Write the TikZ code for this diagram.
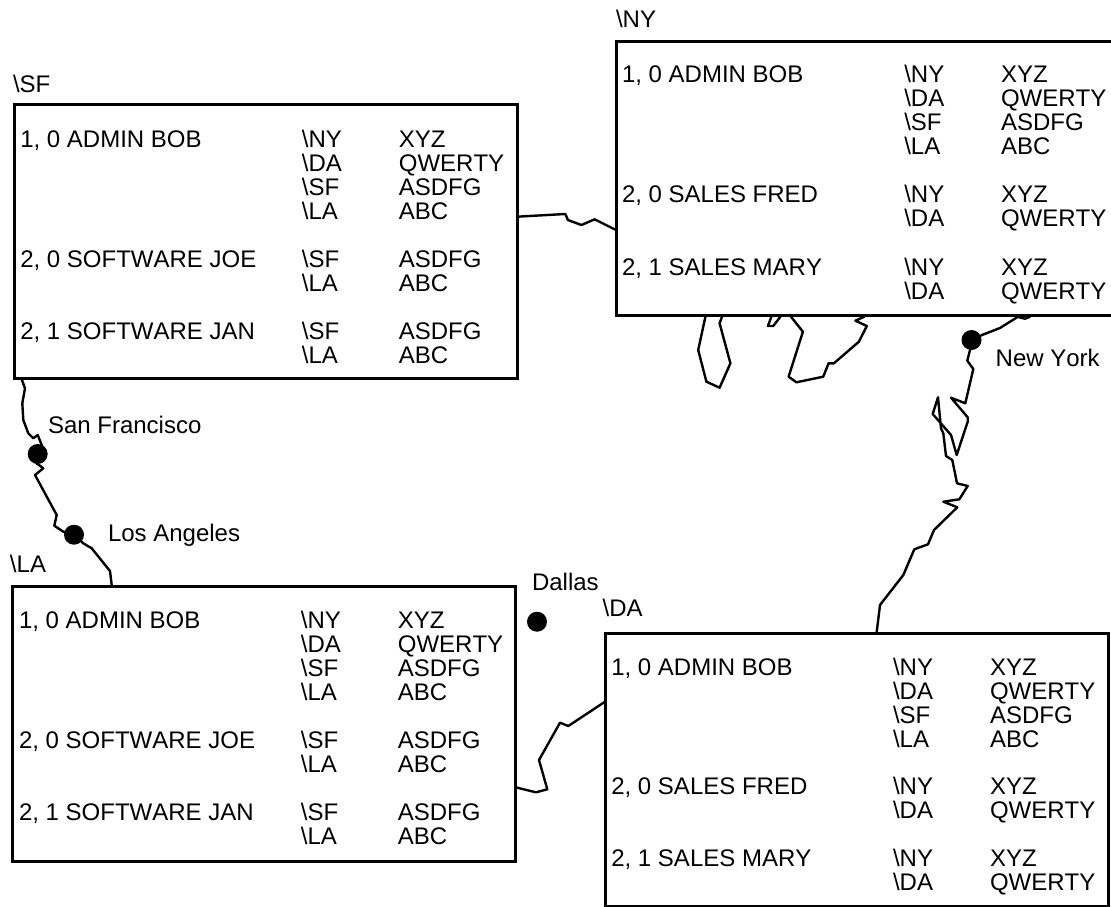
\documentclass[tikz,border=0pt]{standalone}
\usepackage{fontspec}
\setmainfont[Kerning=Off]{Liberation Sans}
\newcommand{\bs}{\textbackslash}
% one line of text: name, x, baseline y, text
\newcommand{\Tx}[4]{\node[txt] (#1) at (#2,#3) {#4};}
% second and third columns of one line
\newcommand{\Pair}[4]{\Tx{#1b}{\colB}{#2}{\bs #3}\Tx{#1c}{\colC}{#2}{#4}}
\tikzset{
  txt/.style={anchor=base west,inner sep=0pt,outer sep=0pt,text=black,font=\fontsize{18}{20}\selectfont},
  site/.style={draw,line width=2.25pt,inner sep=0pt,outer sep=0pt,anchor=north west,fill=white},
  coast/.style={draw,line width=1.8pt,line join=round,line cap=round},
  city/.style={circle,fill=black,inner sep=0pt,outer sep=0pt,minimum size=15pt}
}
\begin{document}
\begin{tikzpicture}[x=0.75pt,y=-0.75pt]
\useasboundingbox (0,0) rectangle (1111,907);
% sites
\node[site,minimum width=377.25pt,minimum height=205.5pt] (sfbox) at (14,104) {};
\node[site,minimum width=377.25pt,minimum height=206.25pt] (labox) at (12.5,586) {};
\node[site,minimum width=377.25pt,minimum height=204.75pt] (dabox) at (605,633) {};
\coordinate (nytr) at (1111,41.5);
\coordinate (nytl) at (616,41.5);
\coordinate (nybl) at (616,315.5);
\coordinate (nybr) at (1111,315.5);
\draw[line width=2.25pt,line join=miter] (nytr) -- (nytl) -- (nybl) -- (nybr);
% cities
\node[city] (sfdot) at (37.7,454) {};
\node[city] (ladot) at (74,534.7) {};
\node[city] (dadot) at (537,621.7) {};
\node[city] (nydot) at (971.5,340) {};
% coast ends on the boxes
\coordinate (sfs) at (21.7,379.3);
\coordinate (lan) at (111.7,585);
\coordinate (sfe) at (517,216.7);
\coordinate (nyw) at (616,230);
\coordinate (lae) at (515.5,787.3);
\coordinate (daw) at (605,701.7);
\coordinate (nys) at (1018,316.7);
\coordinate (nys2) at (1030,316.7);
\coordinate (dan) at (876.7,632);
% coast
\draw[coast] (sfs) -- (25,388.3) -- (22.3,403.3) -- (23.3,420) -- (28.3,433.3) -- (33.3,438.3) -- (37.7,435) -- (41.7,445) -- (sfdot);
\draw[coast] (sfdot) -- (36.7,463.3) -- (43.3,468.3) -- (35,475) -- (56.7,515) -- (54.3,525.7) -- (63.3,531.7) -- (ladot);
\draw[coast] (ladot) -- (83.3,543.3) -- (91.7,548.3) -- (110,571) -- (lan);
\draw[coast] (sfe) -- (565.4,214) -- (567.9,220) -- (581.4,225) -- (594.6,219.3) -- (nyw);
\draw[coast] (lae) -- (536,792.3) -- (547.3,789.3) -- (539,760) -- (560,722.7) -- (568.3,726) -- (daw);
\draw[coast] (nys) -- (1000,328) -- (982,335) -- (nydot);
\draw[coast] (nys) -- (1020,317.5) -- (1025,318.7) -- (nys2);
\draw[coast] (nydot) -- (970,350) -- (967.3,360.7) -- (973.3,369) -- (965.3,403.3) -- (951,397.7) -- (967.7,417.3) -- (967.7,421.7) -- (956.7,455) -- (951,435) -- (932.7,414) -- (938,397.3) -- (941,428.3) -- (943.3,433.3) -- (946,456) -- (952.3,460) -- (957,483.3) -- (967.7,486) -- (959.3,499.3) -- (943.3,501.7) -- (957.3,507.3) -- (934,530) -- (928,544.3) -- (914.3,549.3) -- (903.3,575) -- (880,605) -- (dan);
% islands
\coordinate (i1a) at (705.4,316.7);
\coordinate (i1b) at (722,316.7);
\draw[coast] (i1a) -- (698.2,350) -- (706.4,381.7) -- (719.6,387.7) -- (730.4,363.3) -- (719.6,323.3) -- (i1b);
\coordinate (i2a) at (780.4,316.7);
\coordinate (i2b) at (771.4,316.7);
\draw[coast] (i2a) -- (773.2,326) -- (767.9,326) -- (i2b);
\coordinate (i3a) at (791,316.7);
\coordinate (i3b) at (864.3,316.7);
\draw[coast] (i3a) -- (802.9,331.7) -- (788.6,376.7) -- (796.4,382.3) -- (823.2,376.7) -- (828.6,363.3) -- (833.9,363.3) -- (858.9,341.7) -- (866.8,326) -- (855.4,320.7) -- (i3b);
% city labels
\Tx{sflab}{48}{433}{San Francisco}
\Tx{lalab}{108}{541}{Los Angeles}
\Tx{dalab}{532}{590}{Dallas}
\Tx{nylab}{995.7}{366}{New York}
% titles
\Tx{sft}{13}{92}{\bs SF}
\Tx{nyt}{616}{27}{\bs NY}
\Tx{dat}{602.7}{616}{\bs DA}
\Tx{lat}{10}{572}{\bs LA}
% SF
\def\colA{20.3}\def\colB{301.9}\def\colC{398.9}
\Tx{sfa}{\colA}{147}{1, 0 ADMIN BOB}
\Pair{sfA}{147}{NY}{XYZ}\Pair{sfB}{171}{DA}{QWERTY}\Pair{sfC}{195}{SF}{ASDFG}\Pair{sfD}{219}{LA}{ABC}
\Tx{sfe1}{\colA}{267}{2, 0 SOFTWARE JOE}
\Pair{sfE}{267}{SF}{ASDFG}\Pair{sfF}{291}{LA}{ABC}
\Tx{sfg}{\colA}{339}{2, 1 SOFTWARE JAN}
\Pair{sfG}{339}{SF}{ASDFG}\Pair{sfH}{363}{LA}{ABC}
% LA
\def\colA{19}\def\colB{300.9}\def\colC{397.9}
\Tx{laa}{\colA}{628}{1, 0 ADMIN BOB}
\Pair{laA}{628}{NY}{XYZ}\Pair{laB}{652}{DA}{QWERTY}\Pair{laC}{676}{SF}{ASDFG}\Pair{laD}{700}{LA}{ABC}
\Tx{lae1}{\colA}{748}{2, 0 SOFTWARE JOE}
\Pair{laE}{748}{SF}{ASDFG}\Pair{laF}{772}{LA}{ABC}
\Tx{lag}{\colA}{820}{2, 1 SOFTWARE JAN}
\Pair{laG}{820}{SF}{ASDFG}\Pair{laH}{844}{LA}{ABC}
% NY
\def\colA{622}\def\colB{904.3}\def\colC{1001}
\Tx{nya}{\colA}{82.7}{1, 0 ADMIN BOB}
\Pair{nyA}{82.7}{NY}{XYZ}\Pair{nyB}{106.7}{DA}{QWERTY}\Pair{nyC}{130.7}{SF}{ASDFG}\Pair{nyD}{154.7}{LA}{ABC}
\Tx{nye1}{\colA}{202.7}{2, 0 SALES FRED}
\Pair{nyE}{202.7}{NY}{XYZ}\Pair{nyF}{226.7}{DA}{QWERTY}
\Tx{nyg}{\colA}{275}{2, 1 SALES MARY}
\Pair{nyG}{275}{NY}{XYZ}\Pair{nyH}{299}{DA}{QWERTY}
% DA
\def\colA{611.3}\def\colB{893}\def\colC{990}
\Tx{daa}{\colA}{675}{1, 0 ADMIN BOB}
\Pair{daA}{675}{NY}{XYZ}\Pair{daB}{699}{DA}{QWERTY}\Pair{daC}{723}{SF}{ASDFG}\Pair{daD}{747}{LA}{ABC}
\Tx{dae1}{\colA}{794}{2, 0 SALES FRED}
\Pair{daE}{794}{NY}{XYZ}\Pair{daF}{818}{DA}{QWERTY}
\Tx{dag}{\colA}{866}{2, 1 SALES MARY}
\Pair{daG}{866}{NY}{XYZ}\Pair{daH}{890}{DA}{QWERTY}
\end{tikzpicture}
\end{document}
